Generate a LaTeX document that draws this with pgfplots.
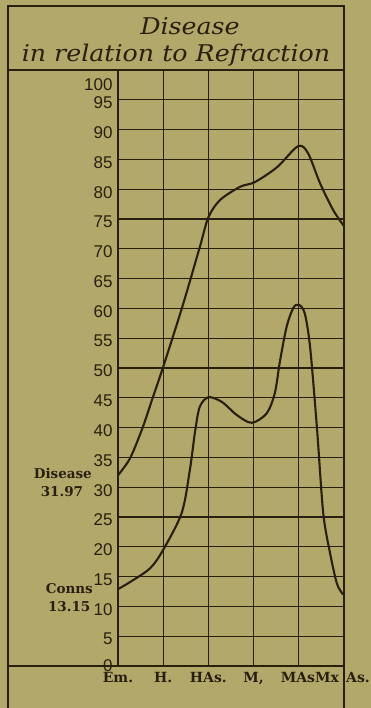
\documentclass[border=0pt]{standalone}
\usepackage{pgfplots}
\pgfplotsset{compat=1.18}
\usepackage{fontspec}
\setmainfont{Liberation Sans}
\newfontfamily\slab{DejaVu Serif}
\newfontfamily\titlefont{DejaVu Serif}[FakeStretch=1.1]
\definecolor{paper}{RGB}{178,168,106}
\definecolor{ink}{RGB}{40,32,14}

\begin{document}
\begin{tikzpicture}[x=1pt,y=1pt]
\fill[paper] (0,0) rectangle (371,708);
\path[use as bounding box] (0,0) rectangle (371,708);
\begin{axis}[
  at={(118pt,42pt)}, anchor=south west,
  scale only axis, width=226pt, height=596pt,
  xmin=0, xmax=5, ymin=0, ymax=100,
  clip=false,
  axis line style={ink, line width=1.6pt},
  grid=major, grid style={ink, line width=1.25pt},
  major tick length=0pt,
  xtick={0,...,5},
  xticklabels={Em., H., HAs., {M,}, \hspace*{22pt}MAsMx, \hspace*{28pt}As.},
  ytick={5,10,...,95},
  extra y ticks={0,100},
  extra y tick labels={\smash{\raisebox{-2pt}{0}}, \smash{\raisebox{-18pt}{100}}},
  extra y tick style={grid=none, yticklabel style={yshift=0pt}},
  /pgf/number format/assume math mode=true,
  yticklabel style={font=\fontsize{17}{17}\selectfont, text=ink, anchor=east, xshift=-2pt, yshift=-3pt},
  xticklabel style={font=\slab\bfseries\fontsize{14}{14}\selectfont, text=ink, anchor=north, yshift=-3pt},
]
% Disease
\addplot[ink, line width=2.1pt, smooth, tension=0.5] coordinates {
  (0,32.0) (0.27,34.9) (0.55,40.1) (0.75,44.6) (1.0,50.2) (1.42,60.2)
  (1.81,70.3) (2.0,75.3) (2.26,78.2) (2.7,80.4) (3.03,81.2) (3.52,83.7)
  (3.98,87.2) (4.2,86.1) (4.47,81.0) (4.76,76.5) (5.0,73.8)
};
% Conns
\addplot[ink, line width=2.1pt, smooth, tension=0.5] coordinates {
  (0,12.9) (0.27,14.1) (0.71,16.4) (1.0,19.5) (1.41,25.7) (1.59,32.9)
  (1.71,39.6) (1.81,43.5) (2.0,45.1) (2.3,44.3) (2.63,42.1) (2.96,40.8)
  (3.29,42.4) (3.47,45.8) (3.58,51.0) (3.73,56.9) (3.88,60.1) (4.0,60.6)
  (4.13,59.2) (4.25,53.5) (4.4,40.1) (4.54,25.7) (4.69,19.0) (4.84,13.9)
  (4.96,12.2) (5.0,12.0)
};
\node[anchor=base east, font=\slab\bfseries\fontsize{13.5}{13.5}\selectfont, text=ink, inner sep=0pt]
  at (axis cs:-0.575,31.4) {Disease};
\node[anchor=base, font=\slab\bfseries\fontsize{13.5}{13.5}\selectfont, text=ink, inner sep=0pt]
  at (axis cs:-1.24,28.4) {31.97};
\node[anchor=base east, font=\slab\bfseries\fontsize{13.5}{13.5}\selectfont, text=ink, inner sep=0pt]
  at (axis cs:-0.553,12.2) {Conns};
\node[anchor=base, font=\slab\bfseries\fontsize{13.5}{13.5}\selectfont, text=ink, inner sep=0pt]
  at (axis cs:-1.08,9.1) {13.15};
\end{axis}
% frame
\draw[ink, line width=1.6pt] (8,0) -- (8,702) -- (344,702) -- (344,0);
\draw[ink, line width=1.6pt] (8,638) -- (344,638);
\draw[ink, line width=1.6pt] (8,42) -- (344,42);
\node[anchor=base, inner sep=0pt, text=ink, font=\titlefont\itshape\fontsize{23}{23}\selectfont] at (190,673) {Disease};
\node[anchor=base, inner sep=0pt, text=ink, font=\titlefont\itshape\fontsize{23}{23}\selectfont] at (176,646) {in relation to Refraction};
\end{tikzpicture}
\end{document}
